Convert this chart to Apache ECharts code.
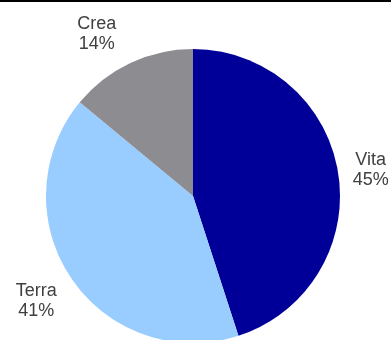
<!DOCTYPE html>
<html>
<head>
<meta charset="utf-8">
<script src="https://cdn.jsdelivr.net/npm/echarts@6/dist/echarts.min.js"></script>
<style>
  html, body { margin: 0; padding: 0; background: #fff; }
  #chart { width: 391px; height: 340px; }
</style>
</head>
<body>
<div id="chart"></div>
<script>
// Share of segments
const categories = ['Vita', 'Terra', 'Crea'];
const shares = [45, 41, 14];
const colors = ['#000099', '#99CCFF', '#8C8C91'];

const CX = 193, CY = 196, R = 147, LABEL_R = 186;
// small per-label nudges so the two-line labels sit clear of the rim
const labelNudge = [[-6, 3], [-3, 0], [-17, 6]];

// cumulative angles (clockwise from 12 o'clock) used to place labels
const total = shares.reduce((a, b) => a + b, 0);
const midAngles = [];
let acc = 0;
shares.forEach(v => {
  midAngles.push((acc + v / 2) / total * 2 * Math.PI);
  acc += v;
});

const chart = echarts.init(document.getElementById('chart'), null, { renderer: 'canvas' });
chart.setOption({
  animation: false,
  graphic: [{
    type: 'rect',
    shape: { x: 0, y: 0, width: 391, height: 2 },
    style: { fill: '#000' }
  }],
  series: [{
    type: 'pie',
    center: [CX, CY],
    radius: [0, R],
    startAngle: 90,
    clockwise: true,
    silent: true,
    data: categories.map((c, i) => ({
      name: c,
      value: shares[i],
      itemStyle: { color: colors[i] }
    })),
    label: {
      show: true,
      position: 'outside',
      formatter: p => p.name + '\n' + p.value + '%',
      color: '#404040',
      fontFamily: '"Liberation Sans", Arial, sans-serif',
      fontSize: 18,
      lineHeight: 20,
      align: 'center',
      overflow: 'none',
      width: null
    },
    labelLine: { show: false },
    labelLayout: p => {
      const a = midAngles[p.dataIndex];
      const n = labelNudge[p.dataIndex];
      return {
        x: CX + Math.sin(a) * LABEL_R + n[0],
        y: CY - Math.cos(a) * LABEL_R + n[1],
        align: 'center',
        verticalAlign: 'middle'
      };
    }
  }]
});
</script>
</body>
</html>
